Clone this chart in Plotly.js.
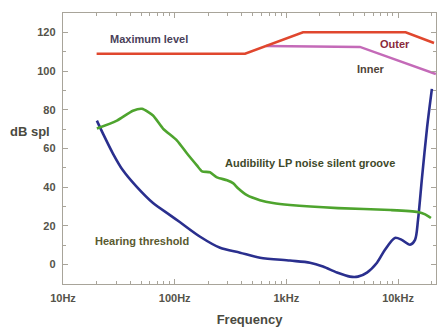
<!DOCTYPE html>
<html>
<head>
<meta charset="utf-8">
<script src="https://cdn.plot.ly/plotly-3.0.1.min.js"></script>
<style>html,body{margin:0;padding:0;background:#fff;}#chart{width:438px;height:327px;}</style>
</head>
<body>
<div id="chart"></div>
<script>
// Maximum level / Outer groove
const maxFreq = [20, 427, 1410, 11700, 21000];
const maxDb   = [109, 109, 120, 120, 114.5];
// Inner groove
const innerFreq = [656, 4560, 21800];
const innerDb   = [113, 112.5, 98.5];
// Audibility LP noise silent groove
const noiseFreq = [20.1, 30.4, 42.3, 51, 64, 78.6, 105, 129, 158, 176, 207, 239, 294, 333, 369, 444, 580, 759, 1077, 2900, 8600, 15000, 17500, 19700];
const noiseDb   = [70.3, 74.4, 79.5, 80.5, 77, 70.3, 64.1, 57.4, 51.3, 48.2, 47.7, 45.1, 43.6, 42.1, 39.5, 35.9, 33.3, 31.8, 30.8, 29.2, 28.2, 27.2, 26, 24.1];
// Hearing threshold
const hearFreq = [20.1, 22.8, 28, 34.4, 46, 64, 90.8, 111, 169, 255, 385, 581, 1077, 1626, 2128, 2839, 3710, 4370, 5270, 6480, 7640, 9380, 10800, 12800, 14200, 15100, 16400, 18200, 20100];
const hearDb   = [74.4, 67.7, 57.4, 48.7, 40, 31.8, 25.6, 22, 14.4, 8.7, 6.2, 3.6, 2.1, 1.0, -1, -4.1, -6.2, -6.2, -4.1, 1.0, 7.7, 13.8, 12.8, 10.3, 12.8, 23.1, 45, 70.8, 90.8];
// Axis ticks
const xTickVals = [10, 100, 1000, 10000];
const xTickText = ['10Hz', '100Hz', '1kHz', '10kHz'];
const yTickVals = [0, 20, 40, 60, 80, 100, 120];

const minorX = [];
[10, 100, 1000, 10000].forEach(d => { for (let k = 2; k <= 9; k++) if (d * k < 22000) minorX.push(d * k); });

const traces = [
  {x: hearFreq, y: hearDb, mode: 'lines', line: {color: '#2a2f8e', width: 2.6, shape: 'spline', smoothing: 0.8}, hoverinfo: 'skip'},
  {x: noiseFreq, y: noiseDb, mode: 'lines', line: {color: '#4ea42e', width: 2.6, shape: 'spline', smoothing: 0.6}, hoverinfo: 'skip'},
  {x: innerFreq, y: innerDb, mode: 'lines', line: {color: '#c46ab8', width: 2.5}, hoverinfo: 'skip'},
  {x: maxFreq, y: maxDb, mode: 'lines', line: {color: '#e0472e', width: 2.5}, hoverinfo: 'skip'}
];

const axisCommon = {
  showgrid: false, zeroline: false, showline: true, linecolor: '#a8a49a', linewidth: 1.2,
  mirror: 'ticks', ticks: 'inside', ticklen: 5, tickcolor: '#a8a49a',
  tickfont: {family: 'Liberation Sans, Arial, sans-serif', size: 11, color: '#55534a', weight: 'bold'}
};

const lbl = (text, x, y, color) => ({text, x, y, xref: 'paper', yref: 'paper', showarrow: false,
  xanchor: 'center', yanchor: 'middle',
  font: {family: 'Liberation Sans, Arial, sans-serif', size: 11, color, weight: 'bold'}});

const layout = {
  width: 438, height: 327,
  margin: {l: 63, r: 2, t: 13, b: 43},
  paper_bgcolor: '#ffffff', plot_bgcolor: '#ffffff',
  showlegend: false,
  xaxis: Object.assign({}, axisCommon, {
    type: 'log', range: [1, 4.34], tickmode: 'array', tickvals: xTickVals, ticktext: xTickText,
    ticklabelstandoff: 4,
    minor: {tickmode: 'array', tickvals: minorX, ticks: 'inside', ticklen: 3, tickcolor: '#a8a49a'},
    title: {text: 'Frequency', standoff: 12, font: {family: 'Liberation Sans, Arial, sans-serif', size: 13, color: '#4a4a40', weight: 'bold'}}
  }),
  yaxis: Object.assign({}, axisCommon, {
    range: [-10, 130], tickmode: 'array', tickvals: yTickVals, ticklabelstandoff: 4,
    minor: {dtick: 10, ticks: 'inside', ticklen: 3, tickcolor: '#a8a49a'}
  }),
  annotations: [
    lbl('Maximum level', 0.231, 0.904, '#4a3f5a'),
    lbl('Outer', 0.890, 0.886, '#8a2a3a'),
    lbl('Inner', 0.826, 0.793, '#4f4438'),
    lbl('Audibility LP noise silent groove', 0.661, 0.446, '#3f4a2a'),
    lbl('Hearing threshold', 0.212, 0.159, '#5a5a30'),
    Object.assign(lbl('dB spl', -0.088, 0.561, '#4a4a40'), {font: {family: 'Liberation Sans, Arial, sans-serif', size: 13, color: '#4a4a40', weight: 'bold'}})
  ]
};

Plotly.newPlot('chart', traces, layout, {displayModeBar: false, staticPlot: true});
</script>
</body>
</html>
